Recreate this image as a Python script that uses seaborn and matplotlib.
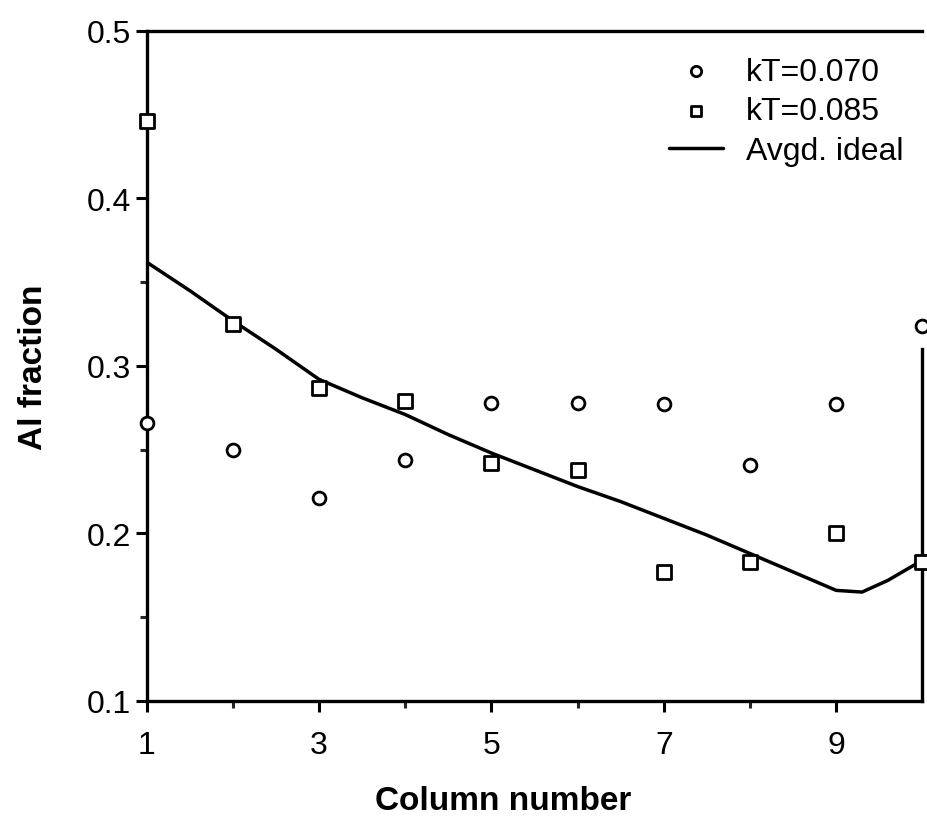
import matplotlib
matplotlib.use("Agg")
import matplotlib.pyplot as plt
import seaborn as sns
import pandas as pd

# Data
columns = [1, 2, 3, 4, 5, 6, 7, 8, 9, 10]
al_kt070 = [0.266, 0.250, 0.221, 0.244, 0.278, 0.278, 0.277, 0.241, 0.277, 0.324]
al_kt085 = [0.446, 0.325, 0.287, 0.279, 0.242, 0.238, 0.177, 0.183, 0.200, 0.183]
ideal_x = [1, 1.5, 2, 2.5, 3, 3.5, 4, 4.5, 5, 5.5, 6, 6.5, 7, 7.5, 8, 8.5, 9, 9.3, 9.6, 10]
ideal_y = [0.362, 0.345, 0.327, 0.310, 0.292, 0.281, 0.271, 0.259, 0.248, 0.238,
           0.228, 0.219, 0.209, 0.199, 0.188, 0.177, 0.166, 0.165, 0.172, 0.184]
x_major = [1, 3, 5, 7, 9]
x_minor = [2, 4, 6, 8]
y_major = [0.1, 0.2, 0.3, 0.4, 0.5]
y_major_labels = ["0.1", "0.2", "0.3", "0.4", "0.5"]
y_minor = [0.15, 0.25, 0.35, 0.45]

sns.set_theme(style="ticks")
plt.rcParams['font.family'] = ['Liberation Sans', 'DejaVu Sans']
plt.rcParams['text.color'] = 'black'
plt.rcParams['axes.labelcolor'] = 'black'

fig = plt.figure(figsize=(9.28, 8.2), dpi=100)
ax = fig.add_axes([0.158, 0.144, 0.836, 0.817])

df1 = pd.DataFrame({"col": columns, "val": al_kt070})
df2 = pd.DataFrame({"col": columns, "val": al_kt085})
dl = pd.DataFrame({"col": ideal_x, "val": ideal_y})

sns.lineplot(data=dl, x="col", y="val", ax=ax, color="black", linewidth=2.5,
             label="Avgd. ideal", zorder=2)
sns.scatterplot(data=df1, x="col", y="val", ax=ax, marker="o", s=85,
                facecolor="white", edgecolor="black", linewidth=2.0,
                label="kT=0.070", zorder=3, clip_on=False)
sns.scatterplot(data=df2, x="col", y="val", ax=ax, marker="s", s=90,
                facecolor="white", edgecolor="black", linewidth=2.0,
                label="kT=0.085", zorder=3, clip_on=False)

ax.set_xlim(1, 10)
ax.set_ylim(0.1, 0.5)
ax.set_xticks(x_major)
ax.set_xticks(x_minor, minor=True)
ax.set_yticks(y_major)
ax.set_yticklabels(y_major_labels)
ax.set_yticks(y_minor, minor=True)
ax.tick_params(axis="both", which="major", direction="out", length=8, width=2.2,
               labelsize=23, colors="black")
ax.tick_params(axis="x", which="major", pad=13)
ax.tick_params(axis="y", which="major", pad=3)
ax.tick_params(axis="both", which="minor", direction="out", length=5, width=2.2)
ax.tick_params(top=False, right=False)

for side in ["left", "bottom", "top", "right"]:
    ax.spines[side].set_visible(True)
    ax.spines[side].set_linewidth(2.4)
    ax.spines[side].set_color("black")
ax.spines["right"].set_bounds(0.1, 0.31)

ax.set_xlabel("Column number", fontsize=24, fontweight="bold")
ax.xaxis.set_label_coords(0.46, -0.148)
ax.xaxis.label.set_verticalalignment("center")
ax.set_ylabel("Al fraction", fontsize=24, fontweight="bold", labelpad=27)

handles, labels = ax.get_legend_handles_labels()
order = [labels.index("kT=0.070"), labels.index("kT=0.085"), labels.index("Avgd. ideal")]
leg = ax.legend([handles[i] for i in order], [labels[i] for i in order],
                loc="upper right", bbox_to_anchor=(1.0, 0.99), frameon=False,
                fontsize=23, handlelength=1.7, handletextpad=0.7, labelspacing=0.3,
                borderaxespad=0.2)
for h in leg.legend_handles:
    try:
        h.set_sizes([55])
    except AttributeError:
        pass

fig.savefig("out.png", dpi=100)
